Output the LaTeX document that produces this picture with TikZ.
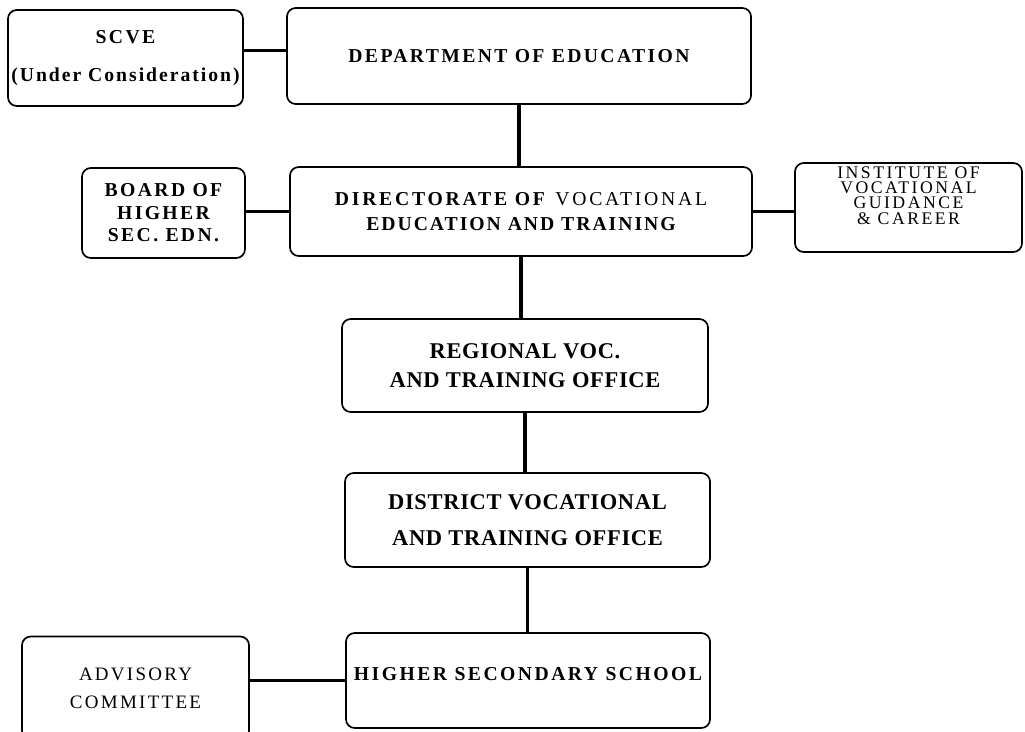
\documentclass[tikz,border=0pt]{standalone}
\usepackage{fontspec}
\setmainfont{Liberation Serif}[LetterSpace=12]
\begin{document}
\begin{tikzpicture}[x=0.025cm,y=-0.025cm,
  box/.style={draw, rounded corners=0.22cm, line width=1.2pt, inner sep=0pt, align=center},
  conn/.style={line width=2.2pt},
  ls/.style={font=\fontsize{14}{#1}\selectfont},
  lsb/.style={font=\fontsize{16}{#1}\selectfont\addfontfeature{LetterSpace=3}}]
\useasboundingbox (0,0) rectangle (1025,731);
\clip (0,0) rectangle (1025,731);

\node[box, ls=27, minimum width=5.875cm, minimum height=2.4cm] (scve) at (125.5,58)
  {\bfseries SCVE\\\addfontfeature{LetterSpace=10}\bfseries(Under Consideration)};
\node[box, ls=17, minimum width=11.6cm, minimum height=2.4cm] (dept) at (519,56)
  {\addfontfeature{LetterSpace=12}\bfseries DEPARTMENT OF EDUCATION};
\node[box, ls=16, minimum width=4.075cm, minimum height=2.25cm] (board) at (163.5,213)
  {\bfseries BOARD OF\\\bfseries HIGHER\\\bfseries SEC. EDN.};
\node[box, ls=17.7, minimum width=11.55cm, minimum height=2.225cm] (dir) at (521,211.5)
  {\addfontfeature{LetterSpace=14}\textbf{DIRECTORATE OF} VOCATIONAL\\\addfontfeature{LetterSpace=10}\bfseries EDUCATION AND TRAINING};
\node[box, font=\fontsize{12.6}{10.8}\selectfont, text depth=0.6cm, minimum width=5.675cm, minimum height=2.225cm] (inst) at (908.5,207.5)
  {\addfontfeature{LetterSpace=14}INSTITUTE OF\\\addfontfeature{LetterSpace=14}VOCATIONAL\\\addfontfeature{LetterSpace=14}GUIDANCE\\\addfontfeature{LetterSpace=14}\& CAREER};
\node[box, lsb=21, minimum width=9.15cm, minimum height=2.325cm] (reg) at (525,365.5)
  {\bfseries REGIONAL VOC.\\\bfseries AND TRAINING OFFICE};
\node[box, lsb=26, minimum width=9.125cm, minimum height=2.35cm] (dist) at (527.5,520)
  {\bfseries DISTRICT VOCATIONAL\\\bfseries AND TRAINING OFFICE};
\node[box, ls=17, text depth=0.35cm, minimum width=9.1cm, minimum height=2.375cm] (hss) at (528,680.5)
  {\addfontfeature{LetterSpace=12.5}\bfseries HIGHER SECONDARY SCHOOL};
\node[box, font=\fontsize{13.5}{20}\selectfont, minimum width=5.675cm, minimum height=2.575cm] (adv) at (135.5,688)
  {ADVISORY\\COMMITTEE};

\draw[conn] ([yshift=0.18cm]scve.east) -- ([yshift=0.18cm]scve.east -| dept.west);
\draw[conn] (dept.south) -- (dept.south |- dir.north);
\draw[conn] (dir.west -| board.east) -- (dir.west);
\draw[conn] (dir.east) -- (dir.east -| inst.west);
\draw[conn] (dir.south) -- (dir.south |- reg.north);
\draw[conn] (reg.south) -- (reg.south |- dist.north);
\draw[conn] (dist.south) -- (dist.south |- hss.north);
\draw[conn] (hss.west -| adv.east) -- (hss.west);
\end{tikzpicture}
\end{document}
